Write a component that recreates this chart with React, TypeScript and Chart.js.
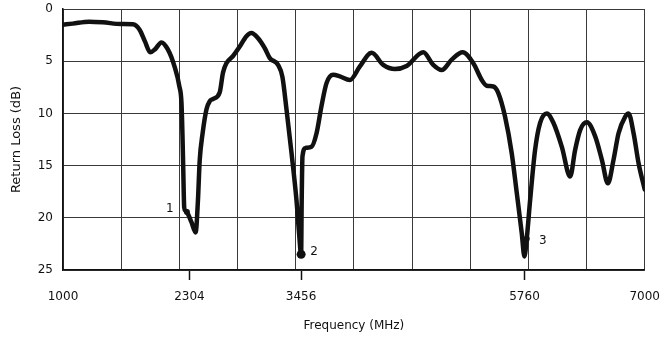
import React, { useEffect, useRef } from "react";
import { Chart, registerables } from "chart.js";

Chart.register(...registerables);

// Frequency (MHz) and return loss (dB)
const freqMHz = [
  1000, 1100, 1270, 1410, 1600, 1720, 1790, 1845, 1900, 1950, 2015, 2080, 2150, 2200,
  2222, 2232, 2240, 2250, 2260, 2278, 2324, 2368, 2392, 2410, 2440, 2480, 2515, 2550,
  2616, 2650, 2685, 2754, 2823, 2892, 2943, 3012, 3081, 3133, 3218, 3263, 3305, 3357,
  3408, 3435, 3456, 3462, 3470, 3504, 3563, 3615, 3666, 3718, 3786, 3855, 3959, 4062,
  4183, 4303, 4423, 4544, 4716, 4819, 4906, 5009, 5122, 5232, 5319, 5370, 5439, 5490,
  5559, 5628, 5680, 5732, 5759, 5783, 5818, 5869, 5921, 5990, 6058, 6145, 6231, 6282,
  6334, 6403, 6489, 6558, 6620, 6678, 6730, 6799, 6833, 6885, 6937, 7000,
];
const returnLossDb = [
  1.5, 1.4, 1.22, 1.28, 1.44, 1.47, 1.98, 3.1, 4.15, 3.85, 3.2, 3.85, 5.5, 7.4,
  9.0, 12.0, 15.2, 19.0, 19.3, 19.45, 20.4, 21.4, 18.3, 14.5, 11.9, 9.6, 8.8, 8.6,
  8.0, 6.1, 5.2, 4.5, 3.6, 2.6, 2.3, 2.8, 3.75, 4.7, 5.35, 6.5, 9.6, 13.8,
  18.3, 21.5, 23.5, 18.3, 14.1, 13.3, 13.2, 11.9, 9.3, 7.1, 6.3, 6.45, 6.8, 5.5,
  4.2, 5.35, 5.75, 5.45, 4.15, 5.35, 5.85, 4.85, 4.15, 5.2, 6.8, 7.35, 7.42, 8.05,
  10.3, 13.8, 17.6, 21.5, 23.7, 22.0, 18.3, 13.5, 10.9, 10.0, 10.9, 13.2, 16.05, 13.5,
  11.6, 10.85, 12.2, 14.45, 16.7, 14.45, 11.9, 10.3, 10.0, 11.9, 14.8, 17.3,
];

// Marked points
const markerNames = ["1", "2", "3"];
const markerFreq = [2278, 3456, 5783];
const markerDb = [19.45, 23.5, 22.0];

// Axis ticks
const xGridTicks = [1000, 1600, 2200, 2800, 3400, 4000, 4600, 5200, 5800, 6400, 7000];
const xLabelTicks = [1000, 2304, 3456, 5760, 7000];
const yTicks = [0, 5, 10, 15, 20, 25];

const FONT = "'DejaVu Sans', 'Liberation Sans', sans-serif";

export default function App() {
  const canvasRef = useRef<HTMLCanvasElement | null>(null);

  useEffect(() => {
    const canvas = canvasRef.current;
    if (!canvas) return;

    const allXTicks = Array.from(new Set([...xGridTicks, ...xLabelTicks])).sort((a, b) => a - b);
    const markTicks = xLabelTicks.filter((v) => v !== 1000 && v !== 7000);
    const labelOffsets = [
      [-17, -3],
      [13, -2],
      [16, 2],
    ];

    const markerLabels = {
      id: "markerLabels",
      afterDatasetsDraw(chart: any) {
        const ctx = chart.ctx;
        const xs = chart.scales.x;
        const ys = chart.scales.y;
        ctx.save();
        ctx.fillStyle = "#111";
        ctx.font = `12px ${FONT}`;
        ctx.textAlign = "center";
        ctx.textBaseline = "middle";
        markerNames.forEach((name, i) => {
          const px = xs.getPixelForValue(markerFreq[i]) + labelOffsets[i][0];
          const py = ys.getPixelForValue(markerDb[i]) + labelOffsets[i][1];
          ctx.fillText(name, px, py);
        });
        ctx.restore();
      },
    };

    const chart = new Chart(canvas, {
      type: "line",
      data: {
        datasets: [
          {
            data: freqMHz.map((f, i) => ({ x: f, y: returnLossDb[i] })),
            borderColor: "#111",
            borderWidth: 4.5,
            pointRadius: 0,
            cubicInterpolationMode: "monotone",
            borderJoinStyle: "round",
            borderCapStyle: "round",
            fill: false,
          },
          {
            data: markerFreq.map((f, i) => ({ x: f, y: markerDb[i] })),
            showLine: false,
            pointRadius: [3, 4.5, 3],
            pointBackgroundColor: "#111",
            pointBorderColor: "#111",
            pointBorderWidth: 0,
          },
        ],
      },
      options: {
        responsive: false,
        animation: false,
        events: [],
        layout: { padding: { top: 9, right: 25, left: 0, bottom: 0 } },
        plugins: {
          legend: { display: false },
          tooltip: { enabled: false },
        },
        scales: {
          x: {
            type: "linear",
            min: 1000,
            max: 7000,
            afterBuildTicks: (axis: any) => {
              axis.ticks = allXTicks.map((v) => ({ value: v }));
            },
            afterFit: (axis: any) => {
              axis.height = 68;
            },
            ticks: {
              autoSkip: false,
              maxRotation: 0,
              padding: 10,
              color: "#111",
              font: { family: FONT, size: 12 },
              callback: (v: any) => (xLabelTicks.includes(Number(v)) ? String(v) : ""),
            },
            grid: {
              color: (ctx: any) =>
                ctx.tick && xGridTicks.includes(ctx.tick.value) ? "#3a3a3a" : "rgba(0,0,0,0)",
              tickColor: (ctx: any) =>
                ctx.tick && markTicks.includes(ctx.tick.value) ? "#111" : "rgba(0,0,0,0)",
              lineWidth: 1,
              tickWidth: 1.5,
              tickLength: 10,
              drawTicks: true,
            },
            border: { display: true, color: "#111", width: 1.5 },
            title: {
              display: true,
              text: "Frequency (MHz)",
              color: "#111",
              font: { family: FONT, size: 12 },
              padding: { top: 4, bottom: 5 },
            },
          },
          y: {
            type: "linear",
            reverse: true,
            min: 0,
            max: 25,
            afterBuildTicks: (axis: any) => {
              axis.ticks = yTicks.map((v) => ({ value: v }));
            },
            afterFit: (axis: any) => {
              axis.width = 63;
              axis.paddingTop = 0;
              axis.paddingBottom = 0;
            },
            ticks: {
              padding: 10,
              color: "#111",
              font: { family: FONT, size: 12 },
            },
            grid: {
              color: "#3a3a3a",
              lineWidth: 1,
              drawTicks: false,
            },
            border: { display: true, color: "#111", width: 1.5 },
            title: {
              display: true,
              text: "Return Loss (dB)",
              color: "#111",
              font: { family: FONT, size: 13 },
              padding: { top: 9, bottom: 4 },
            },
          },
        },
      },
      plugins: [markerLabels],
    } as any);

    return () => chart.destroy();
  }, []);

  return (
    <div
      style={{
        position: "absolute",
        left: 0,
        top: 0,
        width: 670,
        height: 338,
        background: "#fff",
      }}
    >
      <canvas ref={canvasRef} width={670} height={338} style={{ display: "block" }} />
    </div>
  );
}
